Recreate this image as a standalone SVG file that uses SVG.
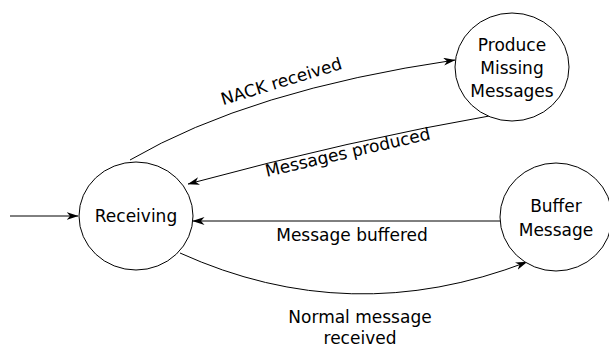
<svg xmlns="http://www.w3.org/2000/svg" width="609" height="347" viewBox="0 0 609 347">
  <style>
    .node { fill: #ffffff; stroke: #000000; stroke-width: 1; }
    .edge { fill: none; stroke: #000000; stroke-width: 1; marker-end: url(#arrow); }
    text { font-family: "DejaVu Sans", "Noto Sans", sans-serif; font-size: 17px; fill: #000000; text-anchor: middle; }
  </style>
  <defs>
    <marker id="arrow" viewBox="0 0 12 8" refX="11.5" refY="4" markerWidth="12" markerHeight="8" markerUnits="userSpaceOnUse" orient="auto">
      <path d="M0,0 L12,4 L0,8 L3.5,4 z" fill="#000000"/>
    </marker>
  </defs>

  <rect width="609" height="347" fill="#ffffff"/>

  <g id="connectors">
    <!-- entry -->
    <path class="edge" d="M10,216 L78,216"/>
    <!-- NACK received -->
    <path class="edge" d="M130,160 Q250,90 455,60"/>
    <text transform="translate(283,87) rotate(-17)">NACK received</text>
    <!-- Messages produced -->
    <path class="edge" d="M500,114 Q350,140 188,184"/>
    <text transform="translate(349,158) rotate(-13)">Messages produced</text>
    <!-- Message buffered -->
    <path class="edge" d="M500,221 L193,221"/>
    <text x="352" y="241">Message buffered</text>
    <!-- Normal message received -->
    <path class="edge" d="M180,253 Q350,330 527,262"/>
    <text x="360" y="323">Normal message</text>
    <text x="360" y="344">received</text>
  </g>

  <g id="receiving">
    <ellipse class="node" cx="136" cy="216" rx="57" ry="54"/>
    <text x="136" y="222">Receiving</text>
  </g>

  <g id="produce-missing-messages">
    <ellipse class="node" cx="512" cy="67" rx="57" ry="54"/>
    <text x="512" y="51">Produce</text>
    <text x="512" y="74">Missing</text>
    <text x="512" y="97">Messages</text>
  </g>

  <g id="buffer-message">
    <ellipse class="node" cx="556" cy="217" rx="56" ry="54"/>
    <text x="556" y="212">Buffer</text>
    <text x="556" y="236">Message</text>
  </g>
</svg>
